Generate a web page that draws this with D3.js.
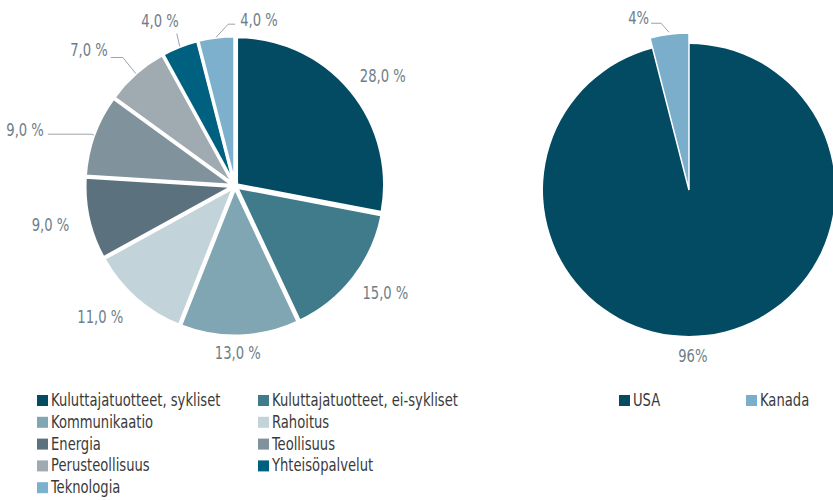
<!DOCTYPE html>
<html>
<head>
<meta charset="utf-8">
<script src="https://cdn.jsdelivr.net/npm/d3@7"></script>
<style>
  body { margin: 0; background: #fff; }
  text { font-family: "DejaVu Sans Condensed", "Liberation Sans", sans-serif; }
</style>
</head>
<body>
<script>
// sector split (left pie)
const sectors = ['Kuluttajatuotteet, sykliset', 'Kuluttajatuotteet, ei-sykliset', 'Kommunikaatio', 'Rahoitus',
  'Energia', 'Teollisuus', 'Perusteollisuus', 'Yhteisöpalvelut', 'Teknologia'];
const sectorValues = [28, 15, 13, 11, 9, 9, 7, 4, 4];
const sectorColors = ['#034b63', '#3f7b8a', '#7fa6b2', '#c2d3d9', '#5b727e', '#80929b', '#a0abb1', '#00607f', '#7cb0cc'];

// country split (right pie)
const countries = ['USA', 'Kanada'];
const countryValues = [96, 4];
const countryColors = ['#034b63', '#7aaecb'];

const W = 833, H = 500;
const labelColor = '#6e7e88';
const SX = 0.86; // condensed look

const svg = d3.select('body').append('svg')
  .attr('width', W).attr('height', H);

function polar(a, r) { return [Math.sin(a) * r, -Math.cos(a) * r]; }

// narrow text helper
function ntext(sel, x, y, anchor, fill, str) {
  return sel.append('text')
    .attr('transform', 'translate(' + x + ',' + y + ') scale(' + SX + ',1)')
    .attr('dy', '0.35em')
    .attr('text-anchor', anchor)
    .attr('fill', fill)
    .style('font-size', '17px')
    .text(str);
}

//left pie
const r1 = 148;
const g1 = svg.append('g').attr('transform', 'translate(235,186)');
const pie = d3.pie().sort(null).value(d => d);
const arcs1 = pie(sectorValues);
const arc1 = d3.arc().innerRadius(0).outerRadius(r1);

g1.selectAll('path')
  .data(arcs1)
  .enter()
  .append('path')
  .attr('d', arc1)
  .attr('transform', d => {
    const p = polar((d.startAngle + d.endAngle) / 2, 2);
    return 'translate(' + p[0] + ',' + p[1] + ')';
  })
  .attr('fill', (d, i) => sectorColors[i])
  .attr('stroke', '#fff')
  .attr('stroke-width', 3)
  .attr('stroke-linejoin', 'round');

// label nudges for plain labels
const nudge = {0: [6, 7], 1: [5, -6], 2: [-3, -17], 3: [-13, -7], 4: [-5, -1]};
// leader lines: elbow offset, horizontal run, text anchor, text offset
const leader = {
  5: {elbow: [-2, -1], dx: -44, anchor: 'end', t: [-4, -4]},
  6: {elbow: [-13, -16], dx: -12, anchor: 'end', t: [-3, -7]},
  7: {elbow: [-3, -13], dx: 0, anchor: 'end', t: [2, -12]},
  8: {elbow: [12, -13], dx: 7, anchor: 'start', t: [5, -4]}
};

arcs1.forEach((d, i) => {
  const a = (d.startAngle + d.endAngle) / 2;
  const txt = d3.format('.1f')(d.value).replace('.', ',') + ' %';
  if (leader[i]) {
    const L = leader[i];
    const p0 = polar(a, r1 + 2);
    const e = [p0[0] + L.elbow[0], p0[1] + L.elbow[1]];
    const p2 = [e[0] + L.dx, e[1]];
    g1.append('polyline')
      .attr('points', [p0, e, p2].map(p => p.join(',')).join(' '))
      .attr('fill', 'none')
      .attr('stroke', '#9aa3a8')
      .attr('stroke-width', 1);
    ntext(g1, p2[0] + L.t[0], p2[1] + L.t[1], L.anchor, labelColor, txt);
  } else {
    const p = polar(a, 184);
    ntext(g1, p[0] + nudge[i][0], p[1] + nudge[i][1], 'middle', labelColor, txt);
  }
});

//right pie
const r2 = 146;
const g2 = svg.append('g').attr('transform', 'translate(689,190)');
const arcs2 = pie(countryValues);

g2.selectAll('path')
  .data(arcs2)
  .enter()
  .append('path')
  .attr('d', (d, i) => d3.arc().innerRadius(0).outerRadius(i === 1 ? r2 + 11 : r2)(d))
  .attr('fill', (d, i) => countryColors[i])
  .attr('stroke', '#fff')
  .attr('stroke-width', (d, i) => i === 1 ? 1.5 : 0);

arcs2.forEach((d, i) => {
  const a = (d.startAngle + d.endAngle) / 2;
  const txt = d.value + '%';
  if (i === 1) {
    const p0 = polar(a, r2 + 13);
    const e = [p0[0] - 8, p0[1] - 9];
    const p2 = [e[0] - 10, e[1]];
    g2.append('polyline')
      .attr('points', [p0, e, p2].map(p => p.join(',')).join(' '))
      .attr('fill', 'none')
      .attr('stroke', '#9aa3a8')
      .attr('stroke-width', 1);
    ntext(g2, p2[0] - 2, p2[1] - 5, 'end', labelColor, txt);
  } else {
    const p = polar(a, 166);
    ntext(g2, p[0] - 17, p[1] + 1, 'middle', labelColor, txt);
  }
});

//legends
const legend1 = svg.append('g').attr('transform', 'translate(37,400)');
legend1.selectAll('g')
  .data(sectors)
  .enter()
  .append('g')
  .attr('transform', (d, i) => 'translate(' + (i % 2) * 221 + ',' + Math.floor(i / 2) * 21.8 + ')')
  .each(function(d, i) {
    const s = d3.select(this);
    s.append('rect')
      .attr('x', 0).attr('y', -5)
      .attr('width', 11).attr('height', 11)
      .attr('fill', sectorColors[i]);
    ntext(s, 14, 0, 'start', '#3a3a3a', d);
  });

const legend2 = svg.append('g').attr('transform', 'translate(619,400)');
legend2.selectAll('g')
  .data(countries)
  .enter()
  .append('g')
  .attr('transform', (d, i) => 'translate(' + i * 127 + ',0)')
  .each(function(d, i) {
    const s = d3.select(this);
    s.append('rect')
      .attr('x', 0).attr('y', -5)
      .attr('width', 11).attr('height', 11)
      .attr('fill', countryColors[i]);
    ntext(s, 14, 0, 'start', '#3a3a3a', d);
  });
</script>
</body>
</html>
